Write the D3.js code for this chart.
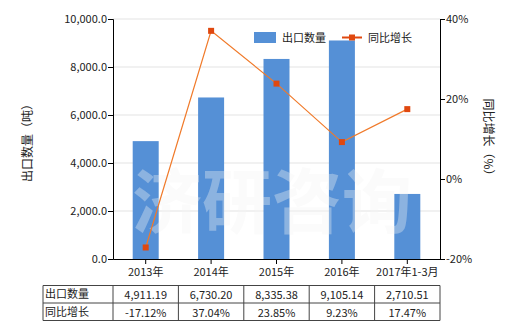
<!DOCTYPE html>
<html>
<head>
<meta charset="utf-8">
<script src="https://cdn.jsdelivr.net/npm/d3@7/dist/d3.min.js"></script>
<style>
  body { margin: 0; background: #fff; }
  svg { font-family: "Noto Sans CJK SC", "DejaVu Sans", sans-serif; }
</style>
</head>
<body>
<div id="viz"></div>
<script>
// chart data
const years = ["2013年", "2014年", "2015年", "2016年", "2017年1-3月"];
const qty = [4911.19, 6730.20, 8335.38, 9105.14, 2710.51];
const growth = [-17.12, 37.04, 23.85, 9.23, 17.47];
const qtyLabels = ["4,911.19", "6,730.20", "8,335.38", "9,105.14", "2,710.51"];
const growthLabels = ["-17.12%", "37.04%", "23.85%", "9.23%", "17.47%"];
const leftTicks = [0, 2000, 4000, 6000, 8000, 10000];
const rightTicks = [-20, 0, 20, 40];

const width = 520, height = 330;
const margin = {top: 19, right: 80, bottom: 71, left: 113};
const barColor = "#5590d6", lineColor = "#f07a2a", dotColor = "#e0480f";

const svg = d3.select("#viz").append("svg")
  .attr("width", width).attr("height", height);

const x = d3.scaleBand().domain(years)
  .range([margin.left, width - margin.right]);
const y = d3.scaleLinear().domain([0, 10000])
  .range([height - margin.bottom, margin.top]);
const y2 = d3.scaleLinear().domain([-20, 40])
  .range([height - margin.bottom, margin.top]);

// grid
svg.append("g").selectAll("line").data(leftTicks.slice(1)).join("line")
  .attr("x1", margin.left).attr("x2", width - margin.right)
  .attr("y1", d => y(d)).attr("y2", d => y(d))
  .attr("stroke", "#e3e3e3");

// bars
const bw = 26;
svg.append("g").selectAll("rect").data(qty).join("rect")
  .attr("x", (d, i) => x(years[i]) + x.bandwidth() / 2 - bw / 2)
  .attr("width", bw)
  .attr("y", d => y(d))
  .attr("height", d => y(0) - y(d))
  .attr("fill", barColor);

// watermark
svg.append("text").attr("x", 272).attr("y", 228)
  .attr("text-anchor", "middle").attr("font-size", 70).attr("font-weight", "bold")
  .attr("fill", "#f4f4f4").attr("opacity", 0.35)
  .text("济研咨询");

// axes
const axL = svg.append("g").attr("transform", `translate(${margin.left},0)`)
  .call(d3.axisLeft(y).tickValues(leftTicks).tickSize(5).tickFormat(d3.format(",.1f")));
const axR = svg.append("g").attr("transform", `translate(${width - margin.right},0)`)
  .call(d3.axisRight(y2).tickValues(rightTicks).tickSize(5).tickFormat(d => d + "%"));
const axB = svg.append("g").attr("transform", `translate(0,${height - margin.bottom})`)
  .call(d3.axisBottom(x).tickSize(5).tickSizeOuter(0));
[axL, axR, axB].forEach(g => {
  g.select(".domain").attr("stroke", "#000");
  g.selectAll(".tick line").attr("stroke", "#000");
  g.selectAll("text").attr("font-size", 11).attr("fill", "#222")
    .attr("font-family", "'Noto Sans CJK SC', sans-serif");
});
axL.selectAll("text").attr("x", -6);
axR.selectAll("text").attr("x", 6);
axB.selectAll("text").attr("y", 9);

// growth line
const line = d3.line()
  .x((d, i) => x(years[i]) + x.bandwidth() / 2)
  .y(d => y2(d));
svg.append("path").datum(growth)
  .attr("d", line).attr("fill", "none")
  .attr("stroke", lineColor).attr("stroke-width", 1.2);
svg.append("g").selectAll("rect").data(growth).join("rect")
  .attr("x", (d, i) => x(years[i]) + x.bandwidth() / 2 - 3)
  .attr("y", d => y2(d) - 3)
  .attr("width", 6).attr("height", 6)
  .attr("fill", dotColor);

// axis titles
svg.append("text")
  .attr("transform", "translate(32,140) rotate(-90)")
  .attr("text-anchor", "middle").attr("font-size", 12).attr("fill", "#222")
  .text("出口数量（吨）");
svg.append("text")
  .attr("transform", "translate(484,140) rotate(90)")
  .attr("text-anchor", "middle").attr("font-size", 12).attr("fill", "#222")
  .text("同比增长（%）");

// legend
const lg = svg.append("g");
lg.append("rect").attr("x", 254).attr("y", 32).attr("width", 22).attr("height", 11).attr("fill", barColor);
lg.append("text").attr("x", 282).attr("y", 42).attr("font-size", 11).attr("fill", "#222").text("出口数量");
lg.append("line").attr("x1", 342).attr("x2", 362).attr("y1", 37.5).attr("y2", 37.5)
  .attr("stroke", dotColor).attr("stroke-width", 2);
lg.append("rect").attr("x", 349).attr("y", 34.5).attr("width", 6).attr("height", 6).attr("fill", dotColor);
lg.append("text").attr("x", 368).attr("y", 42).attr("font-size", 11).attr("fill", "#222").text("同比增长");

// data table
const tTop = 285.5, rowH = 17.5, tLeft = 43;
const tRight = x(years[years.length - 1]) + x.bandwidth();
const tbl = svg.append("g").attr("font-size", 11).attr("fill", "#222");
const rows = [["出口数量", qtyLabels], ["同比增长", growthLabels]];
rows.forEach((r, ri) => {
  const yy = tTop + ri * rowH;
  tbl.append("text").attr("x", tLeft + 2).attr("y", yy + rowH / 2 + 4).attr("fill", "#222").text(r[0]);
  r[1].forEach((v, i) => {
    tbl.append("text").attr("x", x(years[i]) + x.bandwidth() / 2)
      .attr("y", yy + rowH / 2 + 5).attr("text-anchor", "middle").attr("fill", "#222").text(v);
  });
});
const tg = svg.append("g").attr("stroke", "#444").attr("stroke-width", 1);
[0, 1, 2].forEach(k => {
  tg.append("line").attr("x1", tLeft).attr("x2", tRight)
    .attr("y1", tTop + k * rowH).attr("y2", tTop + k * rowH);
});
const cols = [tLeft].concat(years.map(d => x(d))).concat([tRight]);
cols.forEach(cx => {
  tg.append("line").attr("x1", cx).attr("x2", cx)
    .attr("y1", tTop).attr("y2", tTop + 2 * rowH);
});
</script>
</body>
</html>
